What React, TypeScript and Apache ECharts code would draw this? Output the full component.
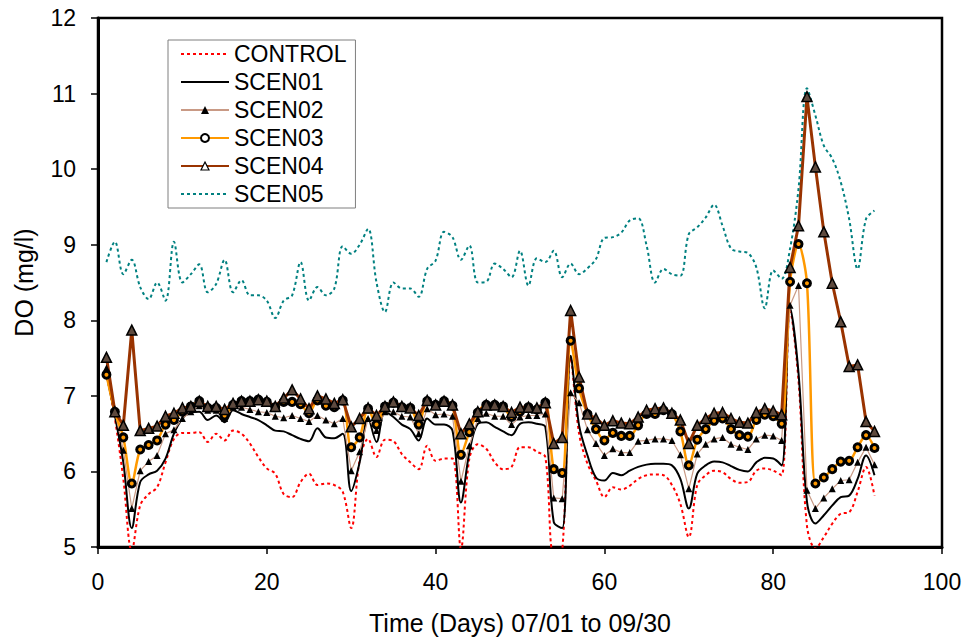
import { useEffect, useRef } from "react";
import * as echarts from "echarts";

const FONT = "'Liberation Sans', Arial, sans-serif";

const firstDay = 1;
const seriesNames = ["CONTROL", "SCEN01", "SCEN02", "SCEN03", "SCEN04", "SCEN05"];

const control = [
  7.3, 6.7, 5.9, 4.95, 5.55, 5.7, 5.79, 6.12, 6.43, 6.51,
  6.51, 6.52, 6.39, 6.5, 6.41, 6.54, 6.5, 6.37, 6.19, 6.04,
  5.97, 5.7, 5.66, 5.86, 5.97, 5.82, 5.84, 5.82, 5.73, 5.25,
  6.15, 6.43, 6.19, 6.42, 6.4, 6.23, 6.12, 6.03, 6.34, 6.14,
  6.17, 6.17, 4.98, 6.17, 6.36, 6.3, 6.12, 6.03, 6.06, 6.32,
  6.32, 6.26, 6.19, 4.9, 4.95, 7.5, 6.5, 6.1, 5.88, 5.66,
  5.79, 5.76, 5.81, 5.9, 5.95, 5.96, 5.95, 5.82, 5.57, 5.13,
  5.82, 5.95, 6.01, 5.99, 5.9, 5.85, 5.86, 6.01, 6.04, 6.01,
  5.95, 8.13, 7.2, 5.28, 4.98, 5.13, 5.31, 5.44, 5.46, 5.73,
  6.06, 5.68,
];

const scen01 = [
  7.29, 6.74, 6.12, 5.25, 5.86, 5.96, 6.01, 6.17, 6.5, 6.7,
  6.78, 6.79, 6.68, 6.74, 6.65, 6.81, 6.76, 6.72, 6.68, 6.61,
  6.54, 6.53, 6.48, 6.43, 6.4, 6.57, 6.45, 6.44, 6.5, 5.74,
  6.12, 6.71, 6.39, 6.79, 6.72, 6.62, 6.56, 6.41, 6.7, 6.62,
  6.62, 6.54, 5.59, 6.25, 6.63, 6.65, 6.59, 6.53, 6.48, 6.63,
  6.65, 6.63, 6.59, 5.33, 5.25, 7.53, 6.61, 6.21, 5.92, 5.88,
  5.98, 5.95, 6.01, 6.06, 6.09, 6.1, 6.1, 6.08, 5.9, 5.51,
  5.97, 6.08, 6.13, 6.12, 6.07, 6.02, 6.0, 6.12, 6.18, 6.17,
  6.08, 8.16, 7.3, 5.6, 5.31, 5.42, 5.55, 5.66, 5.68, 5.9,
  6.21, 5.95,
];

const scen02 = [
  7.37, 6.79, 6.28, 5.51, 6.01, 6.13, 6.21, 6.5, 6.55, 6.7,
  6.79, 6.87, 6.81, 6.81, 6.7, 6.85, 6.85, 6.82, 6.79, 6.78,
  6.73, 6.71, 6.74, 6.7, 6.66, 6.74, 6.68, 6.63, 6.7, 6.01,
  6.26, 6.7, 6.54, 6.79, 6.79, 6.73, 6.72, 6.5, 6.83, 6.75,
  6.76, 6.73, 5.87, 6.34, 6.7, 6.77, 6.73, 6.73, 6.62, 6.72,
  6.74, 6.74, 6.76, 5.65, 5.64, 7.04, 6.91, 6.55, 6.37, 6.21,
  6.3, 6.25, 6.25, 6.4, 6.41, 6.43, 6.43, 6.41, 6.22, 5.77,
  6.23, 6.36, 6.43, 6.45, 6.36, 6.32, 6.29, 6.43, 6.48, 6.47,
  6.41, 8.2, 8.46, 5.75, 5.51, 5.65, 5.77, 5.88, 5.89, 6.12,
  6.32, 6.09,
];

const scen03 = [
  7.28, 6.79, 6.45, 5.84, 6.29, 6.35, 6.41, 6.62, 6.68, 6.79,
  6.86, 6.93, 6.84, 6.84, 6.74, 6.88, 6.93, 6.93, 6.95, 6.92,
  6.85, 6.92, 6.92, 6.89, 6.77, 6.94, 6.87, 6.85, 6.94, 6.32,
  6.45, 6.83, 6.62, 6.86, 6.91, 6.85, 6.84, 6.62, 6.93, 6.88,
  6.93, 6.87, 6.22, 6.52, 6.78, 6.88, 6.88, 6.86, 6.72, 6.79,
  6.85, 6.82, 6.91, 6.03, 5.98, 7.73, 7.1, 6.76, 6.56, 6.41,
  6.51, 6.47, 6.47, 6.61, 6.76, 6.76, 6.81, 6.76, 6.53, 6.08,
  6.42, 6.56, 6.67, 6.7, 6.56, 6.48, 6.46, 6.68, 6.75, 6.73,
  6.63, 8.51, 9.01, 8.49, 5.84, 5.92, 6.03, 6.13, 6.14, 6.32,
  6.48, 6.31,
];

const scen04 = [
  7.51, 6.79, 6.61, 7.87, 6.54, 6.57, 6.6, 6.73, 6.77, 6.84,
  6.86, 6.93, 6.86, 6.86, 6.82, 6.9, 6.93, 6.93, 6.95, 6.93,
  6.86, 6.97, 7.08, 6.96, 6.83, 7.0, 6.96, 6.9, 6.95, 6.59,
  6.7, 6.84, 6.74, 6.86, 6.92, 6.86, 6.84, 6.74, 6.94, 6.88,
  6.93, 6.88, 6.5, 6.63, 6.79, 6.88, 6.88, 6.86, 6.78, 6.85,
  6.85, 6.84, 6.91, 6.37, 6.45, 8.13, 7.25, 6.76, 6.7, 6.61,
  6.67, 6.64, 6.63, 6.72, 6.81, 6.83, 6.84, 6.77, 6.68, 6.37,
  6.61, 6.7, 6.77, 6.78, 6.7, 6.65, 6.64, 6.78, 6.83, 6.8,
  6.75, 8.7, 9.25, 10.96, 10.03, 9.17, 8.49, 7.98, 7.39, 7.41,
  6.66, 6.53,
];

const scen05 = [
  8.77, 9.04, 8.61, 8.8, 8.44, 8.28, 8.5, 8.26, 9.04, 8.5,
  8.61, 8.74, 8.37, 8.48, 8.8, 8.37, 8.53, 8.33, 8.33, 8.26,
  8.03, 8.26, 8.33, 8.77, 8.26, 8.44, 8.33, 8.42, 8.98, 8.88,
  9.0, 9.21, 8.5, 8.11, 8.5, 8.42, 8.42, 8.31, 8.68, 8.79,
  9.17, 9.1, 8.8, 8.99, 8.5, 8.51, 8.75, 8.68, 8.57, 8.92,
  8.46, 8.82, 8.77, 8.92, 8.57, 8.75, 8.61, 8.69, 8.81, 9.09,
  9.1, 9.16, 9.32, 9.35, 8.99, 8.5, 8.68, 8.61, 8.59, 9.14,
  9.23, 9.36, 9.53, 9.25, 8.95, 8.91, 8.89, 8.7, 8.16, 8.66,
  8.55, 8.95, 9.74, 11.07, 10.71, 10.31, 10.14, 9.83, 9.34, 8.68,
  9.34, 9.45,
];

const toPoints = (vals: number[]) => vals.map((v, i) => [firstDay + i, v]);

// legend: plain lines for series without markers, hollow markers for SCEN03/SCEN04
const legendItemStyles: Record<string, object> = {
  CONTROL: { opacity: 0 },
  SCEN01: { opacity: 0 },
  SCEN03: { color: "#fff", borderColor: "#000", borderWidth: 2 },
  SCEN04: { color: "#fff", borderColor: "#000", borderWidth: 1.2 },
  SCEN05: { opacity: 0 },
};

const App = () => {
  const chartRef = useRef<HTMLDivElement>(null);

  useEffect(() => {
    if (!chartRef.current) return;
    const myChart = echarts.init(chartRef.current, null, { renderer: "svg" });

    const axisText = { fontSize: 23, color: "#000", fontFamily: FONT };

    myChart.setOption({
      animation: false,
      textStyle: { fontFamily: FONT },
      grid: {
        left: 98,
        top: 18,
        right: 24,
        bottom: 92,
        show: true,
        borderColor: "#000",
        borderWidth: 2.5,
      },
      legend: {
        orient: "vertical",
        left: 168,
        top: 40,
        padding: [0, 9, 0, 12],
        itemGap: 0,
        itemWidth: 48,
        itemHeight: 10,
        backgroundColor: "#fff",
        borderColor: "#7f7f7f",
        borderWidth: 1,
        textStyle: { fontSize: 23, lineHeight: 28, color: "#000", fontFamily: FONT },
        data: seriesNames.map((name) =>
          legendItemStyles[name] ? { name, itemStyle: legendItemStyles[name] } : { name }
        ),
      },
      xAxis: {
        type: "value",
        min: 0,
        max: 100,
        interval: 20,
        name: "Time (Days) 07/01 to 09/30",
        nameLocation: "middle",
        nameGap: 63,
        nameTextStyle: { fontSize: 25, color: "#000", fontFamily: FONT },
        axisLine: { onZero: false, lineStyle: { color: "#000", width: 3 } },
        axisTick: { length: 7, lineStyle: { color: "#000", width: 1.5 } },
        axisLabel: { ...axisText, margin: 23 },
        splitLine: { show: false },
      },
      yAxis: {
        type: "value",
        min: 5,
        max: 12,
        interval: 1,
        name: "DO (mg/l)",
        nameLocation: "middle",
        nameGap: 62,
        nameTextStyle: { fontSize: 25, color: "#000", fontFamily: FONT },
        axisLine: { show: true, onZero: false, lineStyle: { color: "#000", width: 3 } },
        axisTick: { show: true, length: 7, lineStyle: { color: "#000", width: 1.5 } },
        axisLabel: { ...axisText, margin: 22 },
        splitLine: { show: false },
      },
      series: [
        {
          name: "CONTROL",
          type: "line",
          data: toPoints(control),
          smooth: 0.35,
          symbol: "none",
          itemStyle: { color: "#ff0000" },
          lineStyle: { color: "#ff0000", width: 2, type: [3, 3] },
        },
        {
          name: "SCEN01",
          type: "line",
          data: toPoints(scen01),
          smooth: 0.35,
          symbol: "none",
          itemStyle: { color: "#000" },
          lineStyle: { color: "#000", width: 2 },
        },
        {
          name: "SCEN02",
          type: "line",
          data: toPoints(scen02),
          symbol: "triangle",
          symbolSize: 7,
          itemStyle: { color: "#000" },
          lineStyle: { color: "#c99a85", width: 1.2 },
        },
        {
          name: "SCEN03",
          type: "line",
          data: toPoints(scen03),
          smooth: 0.3,
          symbol: "circle",
          symbolSize: 7,
          itemStyle: { color: "#ff9900", borderColor: "#000", borderWidth: 3 },
          lineStyle: { color: "#ff9900", width: 2.5 },
        },
        {
          name: "SCEN04",
          type: "line",
          data: toPoints(scen04),
          symbol: "triangle",
          symbolSize: 10,
          itemStyle: { color: "#5e4a3e", borderColor: "#000", borderWidth: 1.5 },
          lineStyle: { color: "#993300", width: 3 },
        },
        {
          name: "SCEN05",
          type: "line",
          data: toPoints(scen05),
          smooth: 0.35,
          symbol: "none",
          itemStyle: { color: "#008080" },
          lineStyle: { color: "#008080", width: 2, type: [3, 3] },
        },
      ],
    });

    return () => {
      myChart.dispose();
    };
  }, []);

  return (
    <div
      ref={chartRef}
      style={{ position: "fixed", left: 0, top: 0, width: "966px", height: "640px", background: "#fff" }}
    ></div>
  );
};

export default App;
